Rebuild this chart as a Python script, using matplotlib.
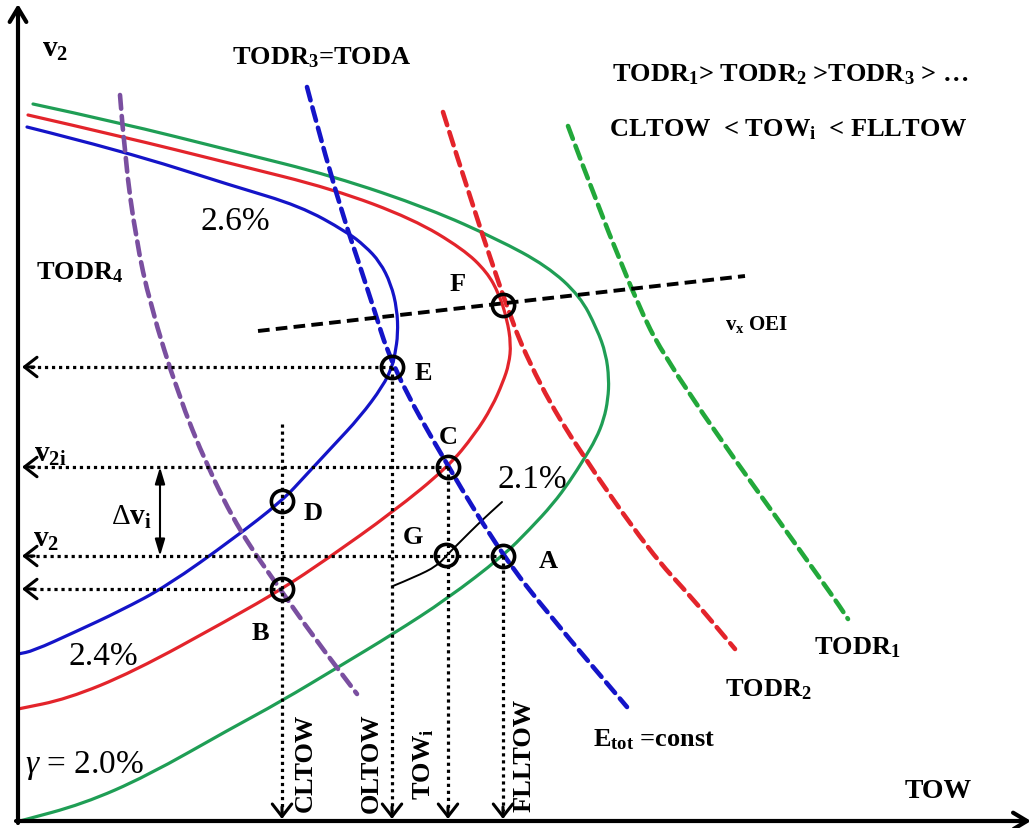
import matplotlib
matplotlib.use('Agg')
import matplotlib.pyplot as plt
from matplotlib.path import Path
from matplotlib.patches import PathPatch

plt.rcParams['font.family'] = 'Liberation Serif'
plt.rcParams['mathtext.fontset'] = 'custom'
plt.rcParams['mathtext.rm'] = 'Liberation Serif'
plt.rcParams['mathtext.bf'] = 'Liberation Serif:bold'
plt.rcParams['mathtext.it'] = 'Liberation Serif:italic'

# Schematic coordinates (picture units: x = TOW to the right, y = v2 downward)
# climb-gradient curves
green_x = [33, 117, 233, 333, 430, 497, 547, 580, 597, 606, 609, 608, 604, 596, 584, 570, 553, 530, 503, 447, 393, 340, 280, 230, 147, 83, 20]
green_y = [105, 123, 152, 177, 210, 240, 267, 297, 330, 355, 380, 400, 420, 440, 460, 482, 505, 530, 557, 600, 635, 667, 703, 730, 777, 805, 822]
red_x = [28, 120, 233, 333, 413, 463, 487, 499, 507, 511, 509, 503, 492, 475, 448, 393, 327, 282, 230, 133, 67, 18]
red_y = [116, 137, 165, 190, 220, 250, 273, 295, 320, 345, 365, 383, 408, 435, 468, 513, 560, 590, 620, 673, 700, 710]
blue_x = [27, 123, 233, 300, 347, 365, 380, 391, 397, 398, 395, 392, 383, 360, 333, 307, 282, 233, 167, 120, 75, 33, 18]
blue_y = [128, 152, 187, 207, 233, 247, 263, 285, 310, 335, 355, 368, 387, 418, 447, 475, 502, 540, 587, 612, 633, 652, 655]
g21_x = [393, 415, 437, 446, 460, 480, 502]
g21_y = [587, 578, 567, 557, 543, 523, 503]

# TODR lines
todr4_x = [120, 125, 136, 150, 178, 207, 240, 280, 313, 357]
todr4_y = [96, 160, 240, 305, 395, 467, 533, 590, 637, 695]
todr3_x = [307, 333, 370, 392, 448, 503, 550, 627]
todr3_y = [88, 187, 297, 368, 468, 557, 617, 708]
todr2_x = [443, 503, 540, 580, 650, 693, 735]
todr2_y = [113, 303, 387, 453, 553, 600, 650]
todr1_x = [568, 630, 677, 830, 848]
todr1_y = [127, 293, 380, 593, 620]
vx_x = [258, 745]
vx_y = [332, 277]

# characteristic points
pt_names = ['F', 'E', 'C', 'D', 'G', 'A', 'B']
pt_x = [503, 392, 448, 282, 446, 503, 282]
pt_y = [306, 368, 468, 502, 556, 557, 590]

# projections
h_from_x = [392, 448, 503, 282]
h_y = [368, 468, 557, 590]
v_x = [282, 392, 448, 503]
v_from_y = [425, 368, 468, 557]

axis_x0, axis_y0 = 18, 822

fig = plt.figure(figsize=(10.34, 8.29), dpi=100)
ax = fig.add_axes([0, 0, 1, 1])
ax.set_xlim(0, 1034)
ax.set_ylim(829, 0)
ax.axis('off')

GREEN = '#1f9e55'
RED = '#e3242b'
BLUE = '#1414c8'
PURPLE = '#7a4fa0'
GREEN_D = '#22a83a'


def smooth(xs, ys, **kw):
    # quadratic spline through the read points, drawn by matplotlib's Path
    verts = [(xs[0], ys[0])]
    codes = [Path.MOVETO]
    for i in range(1, len(xs) - 1):
        verts += [(xs[i], ys[i]), ((xs[i] + xs[i + 1]) / 2, (ys[i] + ys[i + 1]) / 2)]
        codes += [Path.CURVE3, Path.CURVE3]
    verts.append((xs[-1], ys[-1]))
    codes.append(Path.LINETO)
    ax.add_patch(PathPatch(Path(verts, codes), fill=False, capstyle='round', **kw))


# axes arrows
ax.annotate('', xy=(axis_x0, 5), xytext=(axis_x0, axis_y0 + 2),
            arrowprops=dict(arrowstyle='->,head_length=0.5,head_width=0.3', lw=3, color='black',
                            shrinkA=0, shrinkB=0, mutation_scale=20))
ax.annotate('', xy=(1031, axis_y0), xytext=(axis_x0 - 2, axis_y0),
            arrowprops=dict(arrowstyle='->,head_length=0.5,head_width=0.3', lw=3, color='black',
                            shrinkA=0, shrinkB=0, mutation_scale=20))

# solid curves
smooth(green_x, green_y, edgecolor=GREEN, lw=2.3)
smooth(red_x, red_y, edgecolor=RED, lw=2.3)
smooth(blue_x, blue_y, edgecolor=BLUE, lw=2.3)
smooth(g21_x, g21_y, edgecolor='black', lw=1.4)

# dashed TODR lines
dash = (0, (3, 1.6))
smooth(todr4_x, todr4_y, edgecolor=PURPLE, lw=3.3, linestyle=dash)
smooth(todr3_x, todr3_y, edgecolor=BLUE, lw=3.3, linestyle=dash)
smooth(todr2_x, todr2_y, edgecolor=RED, lw=3.3, linestyle=dash)
smooth(todr1_x, todr1_y, edgecolor=GREEN_D, lw=3.3, linestyle=dash)
ax.plot(vx_x, vx_y, color='black', lw=2.8, linestyle=(0, (3, 1.6)))

# dotted projections with arrow heads
dot = (0, (1, 1.2))
head = dict(arrowstyle='->,head_length=0.45,head_width=0.35', lw=2.2, color='black',
            shrinkA=0, shrinkB=0, mutation_scale=20)
for x0, y in zip(h_from_x, h_y):
    ax.plot([x0, 30], [y, y], color='black', lw=2.3, linestyle=dot)
    ax.annotate('', xy=(22, y), xytext=(34, y), arrowprops=head)
for x, y0 in zip(v_x, v_from_y):
    ax.plot([x, x], [y0, 812], color='black', lw=2.3, linestyle=dot)
    ax.annotate('', xy=(x, 820), xytext=(x, 808), arrowprops=head)

# delta v arrow
ax.annotate('', xy=(160, h_y[1]), xytext=(160, h_y[2]),
            arrowprops=dict(arrowstyle='<|-|>,head_length=0.5,head_width=0.15', lw=1.5,
                            color='black', shrinkA=0, shrinkB=0, mutation_scale=20))

# circles
ax.plot(pt_x, pt_y, 'o', ms=16, mfc='none', mec='black', mew=2.6, zorder=5)

bold = dict(fontsize=19, fontweight='bold', ha='center', va='center')
pct = dict(fontsize=24, ha='center', va='center')

lab_off = {'F': (-45, -22), 'E': (31, 5), 'C': (0, -30), 'D': (31, 11),
           'G': (-33, -19), 'A': (45, 5), 'B': (-22, 43)}
for n, x, y in zip(pt_names, pt_x, pt_y):
    dx, dy = lab_off[n]
    ax.text(x + dx, y + dy, n, **bold)

ax.text(55, 50, r'$\mathbf{v_2}$', fontsize=21, ha='center', va='center')
ax.text(322, 58, r'$\mathbf{TODR_3}$=TODA', **bold)
ax.text(790, 75, r'$\mathbf{TODR_1}$> $\mathbf{TODR_2}$ >$\mathbf{TODR_3}$ > …', **bold)
ax.text(788, 130, r'CLTOW  < $\mathbf{TOW_i}$  < FLLTOW', **bold)
ax.text(235, 222, '2.6%', **pct)
ax.text(80, 273, r'$\mathbf{TODR_4}$', **bold)
ax.text(757, 324, r'$\mathbf{v_x}$ OEI', fontsize=15, fontweight='bold', ha='center', va='center')
ax.text(50, 455, r'$\mathbf{v_{2i}}$', fontsize=21, ha='center', va='center')
ax.text(131, 517, r'$\Delta\mathbf{v_i}$', fontsize=21, ha='center', va='center')
ax.text(46, 540, r'$\mathbf{v_2}$', fontsize=21, ha='center', va='center')
ax.text(532, 480, '2.1%', **pct)
ax.text(103, 657, '2.4%', **pct)
ax.text(85, 765, r'$\gamma$ = 2.0%', **pct)

ax.text(305, 763, 'CLTOW', rotation=90, **bold)
ax.text(371, 763, 'OLTOW', rotation=90, **bold)
ax.text(424, 764, r'$\mathbf{TOW_i}$', rotation=90, **bold)
ax.text(524, 755, 'FLLTOW', rotation=90, **bold)

ax.text(654, 740, r'$\mathbf{E_{tot}}$ =const', **bold)
ax.text(768, 690, r'$\mathbf{TODR_2}$', **bold)
ax.text(857, 648, r'$\mathbf{TODR_1}$', **bold)
ax.text(938, 792, 'TOW', fontsize=20, fontweight='bold', ha='center', va='center')

fig.savefig('out.png', dpi=100)
